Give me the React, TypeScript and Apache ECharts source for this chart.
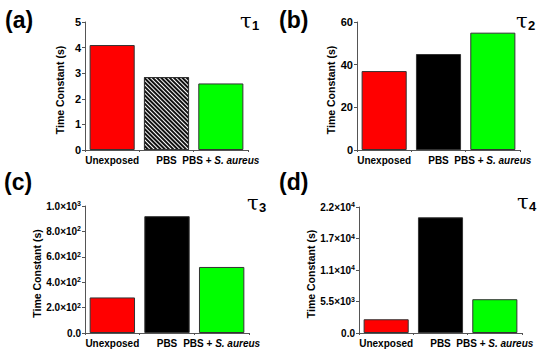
import React, { useEffect, useRef } from "react";
import * as echarts from "echarts";

const categories = ["Unexposed", "PBS", "PBS + S. aureus"];
const tau1Values = [4.1, 2.85, 2.6];
const tau2Values = [37, 45, 55];
const tau3Values = [280, 920, 520];
const tau4Values = [2400, 20200, 5900];

const aTicks = ["0", "1", "2", "3", "4", "5"];
const bTicks = ["0", "20", "40", "60"];
const cTickMantissa = ["0.0", "2.0", "4.0", "6.0", "8.0", "1.0"];
const cTickExp = ["", "2", "2", "2", "2", "3"];
const dTickMantissa = ["0.0", "5.5", "1.1", "1.7", "2.2"];
const dTickExp = ["", "3", "4", "4", "4"];

const FONT = "Liberation Sans";
const AXIS_COLOR = "#555";

const barColors = ["#ff0000", "#000000", "#00ff00"];

export default function App() {
  const ref = useRef<HTMLDivElement>(null);

  useEffect(() => {
    if (!ref.current) return;
    const chart = echarts.init(ref.current, null, { renderer: "svg" });

    const grids = [
      { left: 85, top: 22, width: 163, height: 128 },
      { left: 357, top: 22, width: 163, height: 128 },
      { left: 85, top: 206, width: 164, height: 127 },
      { left: 359, top: 207, width: 163, height: 126 },
    ];

    const catLabel = {
      fontFamily: FONT,
      fontWeight: "bold" as const,
      fontSize: 10,
      color: "#000",
      margin: 5,
      interval: 0,
      formatter: (v: string) => {
        if (v.indexOf("S. aureus") >= 0) {
          const pre = v.replace("S. aureus", "");
          return `{n|${pre}}{i|S. aureus}`;
        }
        return `{n|${v}}`;
      },
      rich: {
        n: { fontFamily: FONT, fontWeight: "bold", fontSize: 10, color: "#000" },
        i: { fontFamily: FONT, fontWeight: "bold", fontStyle: "italic", fontSize: 10, color: "#000" },
      },
    };

    const xAxes = grids.map((_, i) => ({
      type: "category" as const,
      gridIndex: i,
      data: categories,
      axisLine: { lineStyle: { color: AXIS_COLOR, width: 1 } },
      axisTick: { show: true, length: 2, lineStyle: { color: AXIS_COLOR } },
      axisLabel: catLabel,
    }));

    const sciRich = {
      m: { fontFamily: FONT, fontWeight: "bold", fontSize: 10, color: "#000" },
      e: { fontFamily: FONT, fontWeight: "bold", fontSize: 7, color: "#000", padding: [0, 0, 5, 0] },
    };

    const yBase = (i: number, max: number, interval: number, gap: number, fmt: (v: number, idx: number) => string, rich?: any) => ({
      type: "value" as const,
      gridIndex: i,
      min: 0,
      max,
      interval,
      name: "Time Constant (s)",
      nameLocation: "middle" as const,
      nameGap: gap,
      nameTextStyle: { fontFamily: FONT, fontWeight: "bold" as const, fontSize: 10.5, color: "#000", padding: [0, 0, 0, -8] },
      splitLine: { show: false },
      axisLine: { show: true, lineStyle: { color: AXIS_COLOR, width: 1 } },
      axisTick: { show: true, length: 3, lineStyle: { color: AXIS_COLOR } },
      axisLabel: {
        fontFamily: FONT,
        fontWeight: "bold" as const,
        fontSize: 11,
        color: "#000",
        margin: 4,
        formatter: fmt,
        rich,
      },
    });

    const sciFmt = (mant: string[], exp: string[], interval: number) => (v: number) => {
      const idx = Math.round(v / interval);
      if (!exp[idx]) return `{m|${mant[idx]}}`;
      return `{m|${mant[idx]}×10}{e|${exp[idx]}}`;
    };

    const yAxes = [
      yBase(0, 5, 1, 20, (v: number) => aTicks[Math.round(v)] ?? ""),
      yBase(1, 60, 20, 20, (v: number) => bTicks[Math.round(v / 20)] ?? ""),
      yBase(2, 1000, 200, 42, sciFmt(cTickMantissa, cTickExp, 200), sciRich),
      yBase(3, 22000, 5500, 42, sciFmt(dTickMantissa, dTickExp, 5500), sciRich),
    ];

    const mkData = (vals: number[], hatched: boolean) =>
      vals.map((v, j) => {
        const isHatch = hatched && j === 1;
        return {
          value: v,
          itemStyle: {
            color: isHatch ? "#ffffff" : barColors[j],
            borderColor: "#333",
            borderWidth: 1,
            decal: isHatch
              ? {
                  color: "#111",
                  dashArrayX: [1, 0],
                  dashArrayY: [1.1, 1],
                  rotation: Math.PI / 4,
                  symbolSize: 1,
                }
              : undefined,
          },
        };
      });

    const allVals = [tau1Values, tau2Values, tau3Values, tau4Values];
    const series = allVals.map((vals, i) => ({
      type: "bar" as const,
      xAxisIndex: i,
      yAxisIndex: i,
      barCategoryGap: "17%",
      data: mkData(vals, i === 0),
    }));

    const panelLabel = (text: string, x: number, y: number) => ({
      type: "text" as const,
      left: x,
      top: y,
      style: { text, fontFamily: FONT, fontWeight: "bold", fontSize: 23, fill: "#000" },
    });
    const tauLabel = (sub: string, x: number, y: number) => [
      {
        type: "text" as const,
        left: x,
        top: y,
        style: { text: "τ", fontFamily: "DejaVu Serif", fontSize: 21, fill: "#000" },
      },
      {
        type: "text" as const,
        left: x + 12,
        top: y + 9,
        style: { text: sub, fontFamily: FONT, fontWeight: "bold", fontSize: 13, fill: "#000" },
      },
    ];

    chart.setOption({
      animation: false,
      backgroundColor: "#ffffff",
      grid: grids,
      xAxis: xAxes,
      yAxis: yAxes,
      series,
      graphic: [
        panelLabel("(a)", 5, 8),
        panelLabel("(b)", 279, 8),
        panelLabel("(c)", 4, 170),
        panelLabel("(d)", 279, 170),
        ...tauLabel("1", 240, 10),
        ...tauLabel("2", 516, 10),
        ...tauLabel("3", 247, 192),
        ...tauLabel("4", 517, 191),
      ],
    });

    return () => chart.dispose();
  }, []);

  return (
    <div
      ref={ref}
      style={{ position: "fixed", left: 0, top: 0, width: 550, height: 355, background: "#fff" }}
    />
  );
}
